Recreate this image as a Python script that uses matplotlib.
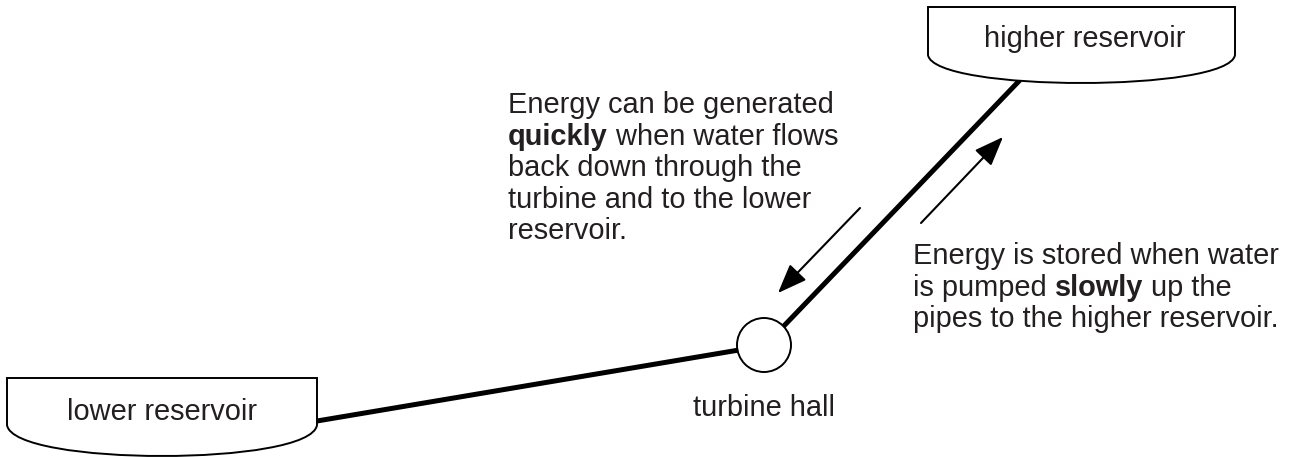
import matplotlib.pyplot as plt
from matplotlib.path import Path
from matplotlib.patches import PathPatch, Circle

plt.rcParams['font.family'] = ['Liberation Sans', 'DejaVu Sans']

# labels of the diagram
reservoir_labels = ['lower reservoir', 'higher reservoir']
turbine_label = 'turbine hall'
# plain lines are strings, mixed lines are tuples of pieces
left_lines = ['Energy can be generated',
              ('quickly', ' when water flows'),
              'back down through the',
              'turbine and to the lower',
              'reservoir.']
right_lines = ['Energy is stored when water',
               ('is pumped ', 'slowly', ' up the'),
               'pipes to the higher reservoir.']
bold_words = ['quickly', 'slowly']

TXT = '#231f20'
FS = 20.9

fig = plt.figure(figsize=(12.96, 4.57), dpi=100)
ax = fig.add_axes([0, 0, 1, 1])
ax.set_xlim(0, 1296)
ax.set_ylim(457, 0)
ax.axis('off')


def reservoir(x0, x1, ytop, yside, ybot):
    # flat top, straight sides, curved bottom
    depth = (ybot - yside) / 0.75
    verts = [(x0, ytop), (x1, ytop), (x1, yside),
             (x1 - 6, yside + depth), (x0 + 6, yside + depth), (x0, yside),
             (x0, ytop)]
    codes = [Path.MOVETO, Path.LINETO, Path.LINETO,
             Path.CURVE4, Path.CURVE4, Path.CURVE4, Path.CLOSEPOLY]
    ax.add_patch(PathPatch(Path(verts, codes), fc='white', ec='black', lw=1.4, zorder=3))


reservoir(7, 317, 378, 425, 456)
reservoir(928, 1235, 7, 55, 83)
ax.text(162, 420, reservoir_labels[0], fontsize=FS, color=TXT, ha='center', va='baseline', zorder=4)
ax.text(1085, 47, reservoir_labels[1], fontsize=FS, color=TXT, ha='center', va='baseline', zorder=4)

# pipes
ax.plot([317, 745], [421, 349], color='black', lw=3.6, solid_capstyle='butt', zorder=2)
ax.plot([780, 1020], [330, 80], color='black', lw=3.6, solid_capstyle='butt', zorder=2)

# turbine
ax.add_patch(Circle((764, 345), 27, fc='white', ec='black', lw=1.4, zorder=3))
ax.text(764, 416, turbine_label, fontsize=FS, color=TXT, ha='center', va='baseline')

# flow arrows
arrow = dict(arrowstyle='-|>,head_length=1.8,head_width=0.7', mutation_scale=10,
             lw=1.5, color='black', shrinkA=0, shrinkB=0)
ax.annotate('', xy=(778, 293), xytext=(860, 208), arrowprops=arrow)
ax.annotate('', xy=(1003, 137), xytext=(921, 223), arrowprops=arrow)


def text_block(x, y0, lines, step):
    for i, line in enumerate(lines):
        y = y0 + i * step
        if isinstance(line, str):
            ax.text(x, y, line, fontsize=FS, color=TXT, va='baseline')
            continue
        # mixed weights: chain pieces one after another
        prev = None
        for piece in line:
            kw = dict(fontsize=FS, color=TXT,
                      fontweight='bold' if piece.strip() in bold_words else 'normal')
            if prev is None:
                prev = ax.text(x, y, piece, va='baseline', **kw)
            else:
                prev = ax.annotate(piece, xy=(1, 0), xycoords=prev, ha='left', va='bottom', **kw)


text_block(508, 113, left_lines, 31.6)
text_block(913, 264, right_lines, 31.6)

fig.savefig('out.png', dpi=100)
